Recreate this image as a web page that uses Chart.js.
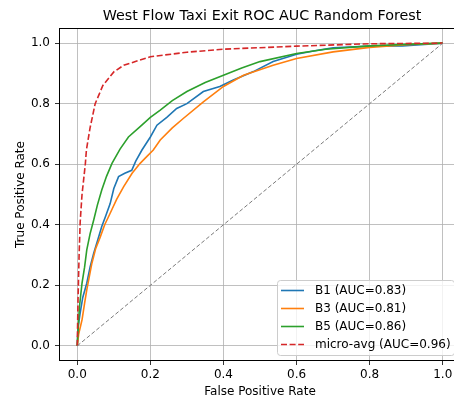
<!DOCTYPE html>
<html>
<head>
<meta charset="utf-8">
<script src="https://cdn.jsdelivr.net/npm/chart.js@4.4.0/dist/chart.umd.min.js"></script>
<style>
  html, body { margin: 0; padding: 0; background: #fff; overflow: hidden; }
  #roc { display: block; }
</style>
</head>
<body>
<canvas id="roc" width="470" height="403"></canvas>
<script>
// ROC curves
const chartTitle = 'West Flow Taxi Exit ROC AUC Random Forest';
const tickValues = [0, 0.2, 0.4, 0.6, 0.8, 1.0];

const b1Fpr = [0, 0.002, 0.008, 0.015, 0.026, 0.035, 0.045, 0.056, 0.067, 0.078, 0.09, 0.1, 0.113, 0.13, 0.149, 0.16, 0.177, 0.2, 0.218, 0.245, 0.272, 0.3, 0.345, 0.39, 0.427, 0.482, 0.536, 0.6, 0.65, 0.7, 0.8, 0.89, 1.0];
const b1Tpr = [0, 0.06, 0.109, 0.16, 0.207, 0.26, 0.306, 0.35, 0.394, 0.43, 0.47, 0.52, 0.559, 0.57, 0.58, 0.61, 0.647, 0.69, 0.729, 0.755, 0.784, 0.8, 0.84, 0.857, 0.878, 0.906, 0.939, 0.963, 0.975, 0.985, 0.99, 0.991, 1.0];

const b3Fpr = [0, 0.004, 0.013, 0.02, 0.026, 0.04, 0.05, 0.063, 0.075, 0.09, 0.108, 0.127, 0.15, 0.172, 0.19, 0.208, 0.227, 0.26, 0.29, 0.345, 0.4, 0.455, 0.536, 0.6, 0.7, 0.8, 0.9, 1.0];
const b3Tpr = [0, 0.04, 0.086, 0.14, 0.185, 0.273, 0.32, 0.36, 0.4, 0.438, 0.485, 0.526, 0.57, 0.603, 0.625, 0.647, 0.68, 0.72, 0.751, 0.806, 0.857, 0.894, 0.927, 0.949, 0.971, 0.986, 0.995, 1.0];

const b5Fpr = [0, 0.003, 0.006, 0.013, 0.02, 0.026, 0.035, 0.045, 0.055, 0.067, 0.08, 0.095, 0.117, 0.14, 0.172, 0.2, 0.227, 0.26, 0.3, 0.35, 0.4, 0.45, 0.5, 0.6, 0.68, 0.8, 0.9, 1.0];
const b5Tpr = [0, 0.07, 0.13, 0.207, 0.26, 0.317, 0.37, 0.416, 0.465, 0.515, 0.56, 0.603, 0.65, 0.69, 0.724, 0.755, 0.779, 0.81, 0.84, 0.87, 0.894, 0.918, 0.939, 0.966, 0.98, 0.991, 0.996, 1.0];

const microFpr = [0, 0.002, 0.005, 0.008, 0.013, 0.022, 0.025, 0.035, 0.049, 0.07, 0.1, 0.127, 0.2, 0.3, 0.4, 0.6, 0.8, 1.0];
const microTpr = [0, 0.15, 0.3, 0.41, 0.5, 0.6, 0.647, 0.72, 0.8, 0.86, 0.905, 0.927, 0.955, 0.97, 0.98, 0.99, 0.998, 1.0];

const chanceX = [0, 1];
const chanceY = [0, 1];

const seriesLabels = ['B1 (AUC=0.83)', 'B3 (AUC=0.81)', 'B5 (AUC=0.86)', 'micro-avg (AUC=0.96)'];
const seriesColors = ['#1f77b4', '#ff7f0e', '#2ca02c', '#d62728'];

function toPoints(xs, ys) {
	return xs.map((x, i) => ({ x: x, y: ys[i] }));
}

const FONT = "'DejaVu Sans', sans-serif";

// spines, title, axis labels and the legend box
const decorPlugin = {
	id: 'decor',
	afterDraw(chart) {
		const ctx = chart.ctx;
		const a = chart.chartArea;
		ctx.save();
		ctx.strokeStyle = '#000';
		ctx.lineWidth = 1;
		ctx.strokeRect(a.left + 0.5, a.top + 0.5, a.right - a.left - 1, a.bottom - a.top - 1);

		ctx.fillStyle = '#000';
		ctx.textAlign = 'center';
		ctx.textBaseline = 'alphabetic';
		ctx.font = '14.3px ' + FONT;
		ctx.fillText(chartTitle, 262, 20);

		ctx.font = '12px ' + FONT;
		ctx.fillText('False Positive Rate', (a.left + a.right) / 2, 395);

		ctx.save();
		ctx.translate(24, (a.top + a.bottom) / 2);
		ctx.rotate(-Math.PI / 2);
		ctx.fillText('True Positive Rate', 0, 0);
		ctx.restore();

		// legend, lower right
		const lx = 277, ly = 280, lw = 177, lh = 75;
		ctx.fillStyle = 'rgba(255,255,255,0.8)';
		ctx.strokeStyle = '#cccccc';
		ctx.beginPath();
		ctx.roundRect(lx + 0.5, ly + 0.5, lw, lh, 3);
		ctx.fill();
		ctx.stroke();

		ctx.font = '12px ' + FONT;
		ctx.textAlign = 'left';
		ctx.textBaseline = 'middle';
		seriesLabels.forEach(function (label, i) {
			const y = 290.5 + i * 18;
			ctx.strokeStyle = seriesColors[i];
			ctx.lineWidth = 1.6;
			ctx.setLineDash(i === 3 ? [6, 2.6] : []);
			ctx.beginPath();
			ctx.moveTo(281, y);
			ctx.lineTo(304, y);
			ctx.stroke();
			ctx.setLineDash([]);
			ctx.fillStyle = '#000';
			ctx.fillText(label, 315, y + 0.5);
		});
		ctx.restore();
	}
};

function axisOptions(isX) {
	return {
		type: 'linear',
		min: -0.05,
		max: 1.05,
		afterBuildTicks: function (scale) {
			scale.ticks = tickValues.map(v => ({ value: v }));
		},
		afterFit: function (scale) {
			if (isX) {
				scale.height = 42;
			} else {
				scale.width = 59;
			}
		},
		ticks: {
			color: '#000',
			font: { family: FONT, size: 12 },
			padding: isX ? 3 : 5,
			maxRotation: 0,
			autoSkip: false,
			callback: function (value) {
				return Number(value).toFixed(1);
			}
		},
		grid: {
			color: '#b0b0b0',
			lineWidth: 0.8,
			tickColor: '#000',
			tickLength: 4,
			drawTicks: true
		},
		border: { display: false }
	};
}

new Chart(document.getElementById('roc'), {
	type: 'scatter',
	data: {
		datasets: [
			{
				label: seriesLabels[0],
				data: toPoints(b1Fpr, b1Tpr),
				borderColor: seriesColors[0],
				borderWidth: 1.6,
				order: 4
			},
			{
				label: seriesLabels[1],
				data: toPoints(b3Fpr, b3Tpr),
				borderColor: seriesColors[1],
				borderWidth: 1.6,
				order: 3
			},
			{
				label: seriesLabels[2],
				data: toPoints(b5Fpr, b5Tpr),
				borderColor: seriesColors[2],
				borderWidth: 1.6,
				order: 2
			},
			{
				label: seriesLabels[3],
				data: toPoints(microFpr, microTpr),
				borderColor: seriesColors[3],
				borderWidth: 1.6,
				borderDash: [6, 2.6],
				order: 1
			},
			{
				label: 'chance',
				data: toPoints(chanceX, chanceY),
				borderColor: '#7a7a7a',
				borderWidth: 1,
				borderDash: [4, 2.2],
				order: 0
			}
		].map(ds => Object.assign(ds, { showLine: true, pointRadius: 0, fill: false, tension: 0 }))
	},
	options: {
		responsive: false,
		devicePixelRatio: 1,
		animation: false,
		layout: { padding: { left: 0, right: 9, top: 28, bottom: 0 } },
		plugins: {
			legend: { display: false },
			tooltip: { enabled: false },
			title: { display: false }
		},
		scales: {
			x: axisOptions(true),
			y: axisOptions(false)
		}
	},
	plugins: [decorPlugin]
});
</script>
</body>
</html>
